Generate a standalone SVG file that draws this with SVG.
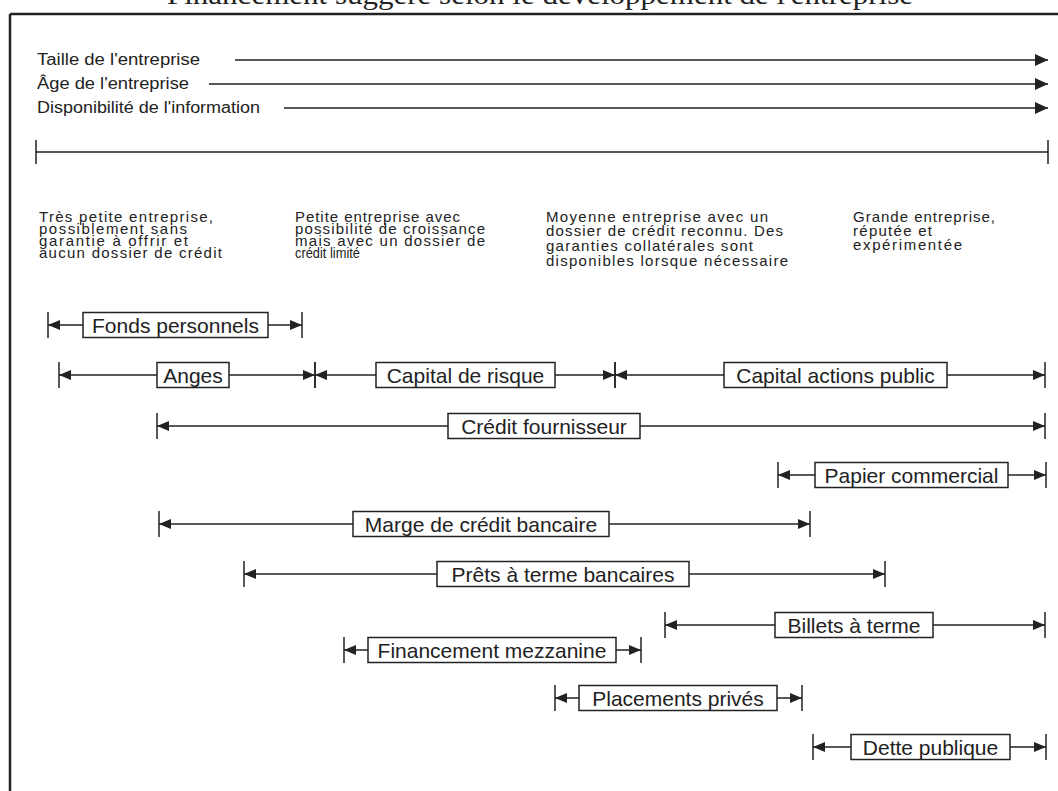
<svg xmlns="http://www.w3.org/2000/svg" width="1058" height="791" viewBox="0 0 1058 791">
<defs>
<style>
.ln{stroke:#222;stroke-width:1.5;fill:none}
.bar{stroke:#222;stroke-width:1.5;fill:none;marker-start:url(#bar);marker-end:url(#bar)}
.box{fill:#fff;stroke:#222;stroke-width:1.5}
.lbl{font-family:"Liberation Sans",Arial,sans-serif;font-size:21px;fill:#222;text-anchor:middle}
.desc{font-family:"Liberation Sans",Arial,sans-serif;font-size:15px;fill:#222}
.axis{font-family:"Liberation Sans",Arial,sans-serif;font-size:16px;fill:#222}
.title{font-family:"Liberation Serif","Times New Roman",serif;font-size:28px;fill:#222}
</style>
<marker id="bar" viewBox="-13 -14 15 28" refX="0" refY="0" markerWidth="15" markerHeight="28" markerUnits="userSpaceOnUse" orient="auto-start-reverse">
<path d="M-12,-5 L0,0 L-12,5 Z" fill="#222"/>
<path d="M0,-13 V13" stroke="#222" stroke-width="1.5"/>
</marker>
<marker id="arr" viewBox="-14 -7 15 14" refX="0" refY="0" markerWidth="15" markerHeight="14" markerUnits="userSpaceOnUse" orient="auto">
<path d="M-13,-6 L0,0 L-13,6 Z" fill="#222"/>
</marker>
</defs>
<rect width="1058" height="791" fill="#fff"/>

<g id="title">
<text class="title" x="167" y="4" textLength="746" lengthAdjust="spacingAndGlyphs">Financement suggéré selon le développement de l'entreprise</text>
</g>

<g id="frame">
<path d="M10,14 H1058" stroke="#222" stroke-width="2.5" fill="none"/>
<path d="M10,14 V791" stroke="#222" stroke-width="2.5" fill="none"/>
</g>

<g id="axes">
<text class="axis" x="37" y="65" textLength="163" lengthAdjust="spacingAndGlyphs">Taille de l'entreprise</text>
<text class="axis" x="37" y="89" textLength="152" lengthAdjust="spacingAndGlyphs">Âge de l'entreprise</text>
<text class="axis" x="37" y="113" textLength="223" lengthAdjust="spacingAndGlyphs">Disponibilité de l'information</text>
</g>

<g id="connectors">
<line class="ln" x1="235" y1="60" x2="1048" y2="60" marker-end="url(#arr)"/>
<line class="ln" x1="209" y1="84" x2="1048" y2="84" marker-end="url(#arr)"/>
<line class="ln" x1="284" y1="108" x2="1048" y2="108" marker-end="url(#arr)"/>
<line class="ln" x1="36" y1="152" x2="1048" y2="152"/>
<line class="ln" x1="36" y1="140" x2="36" y2="164"/>
<line class="ln" x1="1048" y1="140" x2="1048" y2="164"/>
</g>

<g id="stages">
<g id="stage1">
<text class="desc" x="39" y="222" textLength="174" lengthAdjust="spacing">Très petite entreprise,</text>
<text class="desc" x="39" y="234" textLength="148" lengthAdjust="spacing">possiblement sans</text>
<text class="desc" x="39" y="246" textLength="149" lengthAdjust="spacing">garantie à offrir et</text>
<text class="desc" x="39" y="258" textLength="183" lengthAdjust="spacing">aucun dossier de crédit</text>
</g>
<g id="stage2">
<text class="desc" x="295" y="222" textLength="165" lengthAdjust="spacing">Petite entreprise avec</text>
<text class="desc" x="295" y="234" textLength="190" lengthAdjust="spacing">possibilité de croissance</text>
<text class="desc" x="295" y="246" textLength="190" lengthAdjust="spacing">mais avec un dossier de</text>
<text class="desc" x="295" y="258" textLength="65" lengthAdjust="spacingAndGlyphs">crédit limité</text>
</g>
<g id="stage3">
<text class="desc" x="546" y="222" textLength="222" lengthAdjust="spacing">Moyenne entreprise avec un</text>
<text class="desc" x="546" y="236" textLength="237" lengthAdjust="spacing">dossier de crédit reconnu. Des</text>
<text class="desc" x="546" y="251" textLength="207" lengthAdjust="spacing">garanties collatérales sont</text>
<text class="desc" x="546" y="266" textLength="242" lengthAdjust="spacing">disponibles lorsque nécessaire</text>
</g>
<g id="stage4">
<text class="desc" x="853" y="222" textLength="142" lengthAdjust="spacing">Grande entreprise,</text>
<text class="desc" x="853" y="236" textLength="79" lengthAdjust="spacing">réputée et</text>
<text class="desc" x="853" y="250" textLength="109" lengthAdjust="spacing">expérimentée</text>
</g>
</g>

<g id="fonds-personnels">
<line class="bar" x1="48" y1="325" x2="302" y2="325"/>
<rect class="box" x="83" y="312.5" width="185" height="25"/>
<text class="lbl" x="175.5" y="332.5">Fonds personnels</text>
</g>
<g id="anges">
<line class="bar" x1="59" y1="375" x2="315" y2="375"/>
<rect class="box" x="157" y="362.5" width="72" height="25"/>
<text class="lbl" x="193" y="382.5">Anges</text>
</g>
<g id="capital-risque">
<line class="bar" x1="315" y1="375" x2="615" y2="375"/>
<rect class="box" x="376" y="362.5" width="179" height="25"/>
<text class="lbl" x="465.5" y="382.5">Capital de risque</text>
</g>
<g id="capital-actions">
<line class="bar" x1="615" y1="375" x2="1045" y2="375"/>
<rect class="box" x="724" y="362.5" width="223" height="25"/>
<text class="lbl" x="835.5" y="382.5">Capital actions public</text>
</g>
<g id="credit-fournisseur">
<line class="bar" x1="157" y1="426" x2="1045" y2="426"/>
<rect class="box" x="448" y="413.5" width="192" height="25"/>
<text class="lbl" x="544" y="433.5">Crédit fournisseur</text>
</g>
<g id="papier-commercial">
<line class="bar" x1="778" y1="475" x2="1046" y2="475"/>
<rect class="box" x="815" y="462.5" width="193" height="25"/>
<text class="lbl" x="911.5" y="482.5">Papier commercial</text>
</g>
<g id="marge-credit">
<line class="bar" x1="159" y1="524" x2="810" y2="524"/>
<rect class="box" x="353" y="511.5" width="256" height="25"/>
<text class="lbl" x="481" y="531.5">Marge de crédit bancaire</text>
</g>
<g id="prets-terme">
<line class="bar" x1="244" y1="574" x2="885" y2="574"/>
<rect class="box" x="437" y="561.5" width="252" height="25"/>
<text class="lbl" x="563" y="581.5">Prêts à terme bancaires</text>
</g>
<g id="billets-terme">
<line class="bar" x1="665" y1="625" x2="1045" y2="625"/>
<rect class="box" x="775" y="612.5" width="158" height="25"/>
<text class="lbl" x="854" y="632.5">Billets à terme</text>
</g>
<g id="mezzanine">
<line class="bar" x1="344" y1="650" x2="641" y2="650"/>
<rect class="box" x="368" y="637.5" width="248" height="25"/>
<text class="lbl" x="492" y="657.5">Financement mezzanine</text>
</g>
<g id="placements-prives">
<line class="bar" x1="555" y1="698" x2="802" y2="698"/>
<rect class="box" x="579" y="685.5" width="198" height="25"/>
<text class="lbl" x="678" y="705.5">Placements privés</text>
</g>
<g id="dette-publique">
<line class="bar" x1="813" y1="747" x2="1046" y2="747"/>
<rect class="box" x="851" y="734.5" width="159" height="25"/>
<text class="lbl" x="930.5" y="754.5">Dette publique</text>
</g>
</svg>
